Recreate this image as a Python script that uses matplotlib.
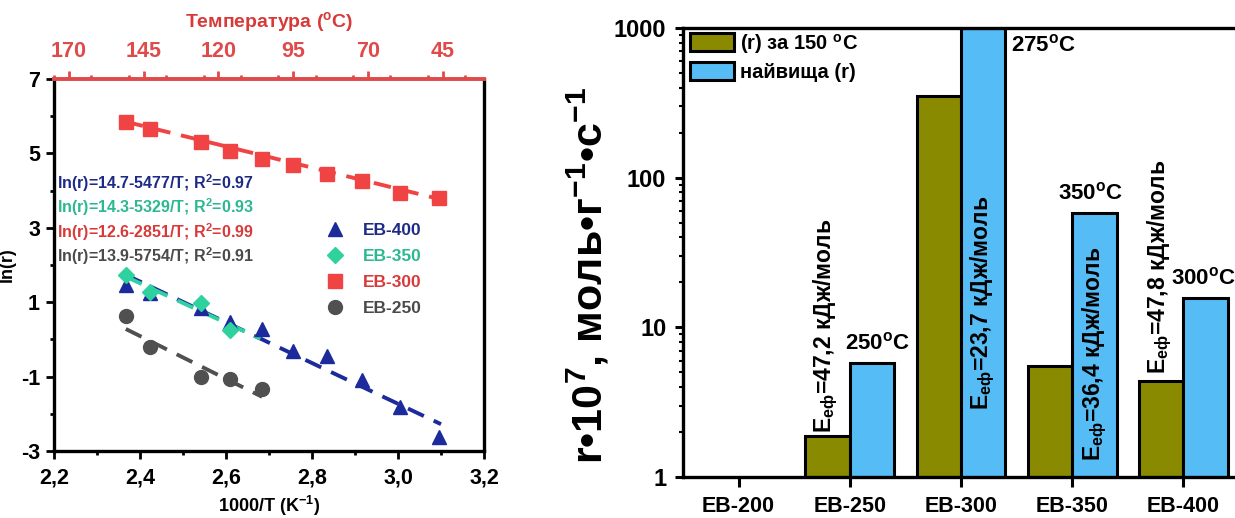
import numpy as np
import matplotlib
matplotlib.use("Agg")
import matplotlib.pyplot as plt
from matplotlib.lines import Line2D
from matplotlib.patches import Patch
from matplotlib.ticker import FixedLocator, MultipleLocator, FuncFormatter, LogLocator, NullFormatter

# ---------------- data: left panel (Arrhenius plot) ----------------
inv_T = [2.367, 2.423, 2.541, 2.610, 2.684, 2.756, 2.835, 2.916, 3.005, 3.096]
ln_r_eb400 = [1.46, 1.24, 0.84, 0.48, 0.27, -0.30, -0.45, -1.09, -1.83, -2.63]
inv_T_eb350 = [2.367, 2.423, 2.541, 2.610]
ln_r_eb350 = [1.73, 1.28, 0.97, 0.25]
ln_r_eb300 = [5.84, 5.65, 5.31, 5.07, 4.84, 4.69, 4.44, 4.26, 3.93, 3.80]
inv_T_eb250 = [2.367, 2.423, 2.541, 2.610, 2.684]
ln_r_eb250 = [0.63, -0.21, -1.00, -1.07, -1.32]

# fit lines: ln(r) = a - b/T   (b in K, x = 1000/T)
fit_names = ["EB-400", "EB-350", "EB-300", "EB-250"]
fit_a = [14.7, 14.3, 12.6, 13.9]
fit_b = [5477, 5329, 2851, 5754]
fit_r2 = ["0.97", "0.93", "0.99", "0.91"]
fit_x_start = [2.367, 2.367, 2.367, 2.367]
fit_x_end = [3.10, 2.68, 3.096, 2.684]

x_ticks = [2.2, 2.4, 2.6, 2.8, 3.0, 3.2]
x_ticklabels = ["2,2", "2,4", "2,6", "2,8", "3,0", "3,2"]
y_ticks = [-3, -1, 1, 3, 5, 7]
temp_ticks = [170, 145, 120, 95, 70, 45]

# ---------------- data: right panel (bars) ----------------
samples = ["EB-200", "EB-250", "EB-300", "EB-350", "EB-400"]
r_150 = [np.nan, 1.88, 350.0, 5.5, 4.35]
r_max = [np.nan, 5.8, 1000.0, 58.4, 15.7]
t_max = ["", "250", "275", "350", "300"]
E_eff = ["", "47,2", "23,7", "36,4", "47,8"]

# ---------------- style ----------------
plt.rcParams["font.family"] = ["Liberation Sans", "DejaVu Sans"]
plt.rcParams["font.weight"] = "bold"
plt.rcParams["mathtext.fontset"] = "custom"
plt.rcParams["mathtext.rm"] = "Liberation Sans:bold"
plt.rcParams["mathtext.it"] = "Liberation Sans:bold"
plt.rcParams["mathtext.bf"] = "Liberation Sans:bold"
plt.rcParams["mathtext.sf"] = "Liberation Sans:bold"
plt.rcParams["axes.unicode_minus"] = False

C_NAVY = "#1c2a9c"
C_NAVY_T = "#1d2b86"
C_TEAL = "#2fd29e"
C_TEAL_T = "#2cb891"
C_RED = "#f04444"
C_RED_T = "#d83a3a"
C_GRAY = "#505050"
C_GRAY_T = "#4a4a4a"
C_AXRED = "#e04a4a"
C_OLIVE = "#8a8a00"
C_BLUE = "#56bcf6"

W, H = 1235, 518
fig = plt.figure(figsize=(W / 100, H / 100), dpi=100)

# ======================= LEFT PANEL =======================
ax = fig.add_axes([54 / W, 1 - 451 / H, 430 / W, 372 / H])
ax.set_xlim(2.2, 3.2)
ax.set_ylim(-3, 7)

fit_colors = [C_NAVY, C_TEAL, C_RED, C_GRAY]
for a, b, x0, x1, c in zip(fit_a, fit_b, fit_x_start, fit_x_end, fit_colors):
    xs = np.array([x0, x1])
    ax.plot(xs, a - b / 1000.0 * xs, ls=(0, (4.5, 2.8)), lw=2.8, color=c, zorder=2)

ax.plot(inv_T, ln_r_eb300, ls="none", marker="s", ms=9.5, color=C_RED, zorder=3)
ax.plot(inv_T_eb250, ln_r_eb250, ls="none", marker="o", ms=10, color=C_GRAY, zorder=3)
ax.plot(inv_T, ln_r_eb400, ls="none", marker="^", ms=10.5, color=C_NAVY, zorder=3)
ax.plot(inv_T_eb350, ln_r_eb350, ls="none", marker="D", ms=8.5, color=C_TEAL, zorder=4)

eq_colors = [C_NAVY_T, C_TEAL_T, C_RED_T, C_GRAY_T]
eq_y = [4.20, 3.55, 2.89, 2.24]
for a, b, r2, c, yy in zip(fit_a, fit_b, fit_r2, eq_colors, eq_y):
    ax.text(2.207, yy, f"ln(r)={a}-{b}/T; R$^{{2}}$={r2}", color=c,
            fontsize=11.5, fontweight="bold", va="center", ha="left")

handles = [
    Line2D([], [], ls="none", marker="^", ms=10.5, color=C_NAVY),
    Line2D([], [], ls="none", marker="D", ms=8.5, color=C_TEAL),
    Line2D([], [], ls="none", marker="s", ms=9.5, color=C_RED),
    Line2D([], [], ls="none", marker="o", ms=10, color=C_GRAY),
]
leg = ax.legend(handles, ["EB-400", "EB-350", "EB-300", "EB-250"], loc="upper left",
                bbox_to_anchor=(0.630, 0.612), frameon=False, borderpad=0, borderaxespad=0,
                handlelength=1.2, handletextpad=1.0, labelspacing=0.62,
                prop={"size": 12.5, "weight": "bold"})
for t, c in zip(leg.get_texts(), [C_NAVY_T, C_TEAL_T, C_RED_T, C_GRAY_T]):
    t.set_color(c)

ax.xaxis.set_major_locator(FixedLocator(x_ticks))
ax.xaxis.set_major_formatter(FuncFormatter(
    lambda v, p: x_ticklabels[x_ticks.index(round(v, 1))] if round(v, 1) in x_ticks else ""))
ax.xaxis.set_minor_locator(MultipleLocator(0.1))
ax.yaxis.set_major_locator(FixedLocator(y_ticks))
ax.yaxis.set_minor_locator(MultipleLocator(1))
ax.tick_params(axis="both", which="major", direction="out", length=6, width=2, labelsize=15.5, pad=4)
ax.tick_params(axis="both", which="minor", direction="out", length=3, width=2)
ax.tick_params(axis="x", which="major", pad=6)
for lab in ax.get_xticklabels() + ax.get_yticklabels():
    lab.set_fontweight("bold")
for s in ["left", "bottom", "right"]:
    ax.spines[s].set_linewidth(2.4)
ax.spines["top"].set_visible(False)

ax.set_xlabel("1000/T (K$^{-1}$)", fontsize=13, fontweight="bold", labelpad=4)
ax.set_ylabel("ln(r)", fontsize=13, fontweight="bold")
ax.yaxis.set_label_coords(-0.088, 0.5)

axt = ax.twiny()
axt.set_xlim(175.0, 31.2)
axt.xaxis.set_major_locator(FixedLocator(temp_ticks))
axt.xaxis.set_minor_locator(MultipleLocator(12.5))
axt.tick_params(axis="x", which="major", direction="out", length=6, width=2,
                colors=C_AXRED, labelsize=15.5, pad=6)
axt.tick_params(axis="x", which="minor", direction="out", length=3, width=2, colors=C_AXRED)
for lab in axt.get_xticklabels():
    lab.set_fontweight("bold")
axt.spines["top"].set_color(C_AXRED)
axt.spines["top"].set_linewidth(2.8)
for s in ["left", "bottom", "right"]:
    axt.spines[s].set_visible(False)
axt.set_xlabel("Температура ($^{\\mathrm{o}}$C)", color=C_RED_T, fontsize=14,
               fontweight="bold", labelpad=10)

# ======================= RIGHT PANEL =======================
ax2 = fig.add_axes([683 / W, 1 - 477 / H, 556 / W, 449 / H])
ax2.set_yscale("log")
ax2.set_ylim(1, 1000)
ax2.set_xlim(-0.5, len(samples) - 0.5)

xpos = np.arange(len(samples))
bw = 0.4
for i in range(len(samples)):
    if np.isfinite(r_150[i]):
        ax2.bar(xpos[i] - bw / 2, r_150[i], width=bw, color=C_OLIVE, edgecolor="black",
                linewidth=2.2, zorder=2)
    if np.isfinite(r_max[i]):
        ax2.bar(xpos[i] + bw / 2, r_max[i], width=bw, color=C_BLUE, edgecolor="black",
                linewidth=2.2, zorder=2)


def e_label(v):
    return "E$_{\\mathrm{еф}}$=" + v + " кДж/моль"


EFS = 16.5
ax2.annotate(e_label(E_eff[1]), xy=(xpos[1] - bw / 2, r_150[1]), xytext=(-1, 2),
             textcoords="offset points", rotation=90, ha="center", va="bottom",
             fontsize=EFS, fontweight="bold")
ax2.annotate(e_label(E_eff[4]), xy=(xpos[4] - bw / 2, r_150[4]), xytext=(-1, 5),
             textcoords="offset points", rotation=90, ha="center", va="bottom",
             fontsize=EFS, fontweight="bold")
ax2.text(xpos[2] + bw / 2, 2.8, e_label(E_eff[2]), rotation=90, ha="center", va="bottom",
         fontsize=EFS, fontweight="bold", zorder=3)
ax2.text(xpos[3] + bw / 2, 1.27, e_label(E_eff[3]), rotation=90, ha="center", va="bottom",
         fontsize=EFS, fontweight="bold", zorder=3)


def t_label(v):
    return v + "$^{\\mathrm{o}}$C"


TFS = 16
ax2.annotate(t_label(t_max[1]), xy=(xpos[1] + bw / 2, r_max[1]), xytext=(4, 6),
             textcoords="offset points", ha="center", va="bottom", fontsize=TFS, fontweight="bold")
ax2.annotate(t_label(t_max[2]), xy=(xpos[2] + bw, 760), xytext=(4, 0),
             textcoords="offset points", ha="left", va="center", fontsize=TFS, fontweight="bold")
ax2.annotate(t_label(t_max[3]), xy=(xpos[3] + bw / 2, r_max[3]), xytext=(-3, 6),
             textcoords="offset points", ha="center", va="bottom", fontsize=TFS, fontweight="bold")
ax2.annotate(t_label(t_max[4]), xy=(xpos[4] + bw / 2, r_max[4]), xytext=(-1.5, 6),
             textcoords="offset points", ha="center", va="bottom", fontsize=TFS, fontweight="bold")

ax2.set_xticks(xpos)
ax2.set_xticklabels(samples)
ax2.yaxis.set_major_locator(LogLocator(base=10, numticks=10))
ax2.yaxis.set_minor_locator(LogLocator(base=10, subs=np.arange(2, 10), numticks=20))
ax2.yaxis.set_minor_formatter(NullFormatter())
ax2.yaxis.set_major_formatter(FuncFormatter(lambda v, p: f"{int(round(v))}"))
ax2.tick_params(axis="x", which="major", direction="out", length=7, width=2.2, labelsize=15.5, pad=7)
ax2.tick_params(axis="y", which="major", direction="out", length=6, width=2.2, labelsize=17, pad=6)
ax2.tick_params(axis="y", which="minor", direction="out", length=3, width=1.5)
for lab in ax2.get_xticklabels() + ax2.get_yticklabels():
    lab.set_fontweight("bold")
for s in ["left", "bottom", "top"]:
    ax2.spines[s].set_linewidth(2.4)
ax2.spines["right"].set_visible(False)

ax2.set_ylabel("r•10$^{\\mathrm{7}}$, моль•г$^{\\mathrm{-1}}$•с$^{\\mathrm{-1}}$",
               fontsize=31, fontweight="bold")
ax2.yaxis.set_label_coords(-0.128, 0.45)

lh = [Patch(facecolor=C_OLIVE, edgecolor="black", linewidth=2.2),
      Patch(facecolor=C_BLUE, edgecolor="black", linewidth=2.2)]
leg2 = ax2.legend(lh, ["(r) за 150 $^{\\mathrm{o}}$C", "найвища (r)"], loc="upper left",
                  bbox_to_anchor=(0.0126, 0.992), frameon=False, borderpad=0, borderaxespad=0,
                  handlelength=2.2, handleheight=1.0, handletextpad=0.3, labelspacing=0.3,
                  prop={"size": 14.5, "weight": "bold"})

fig.savefig("out.png", dpi=100)
